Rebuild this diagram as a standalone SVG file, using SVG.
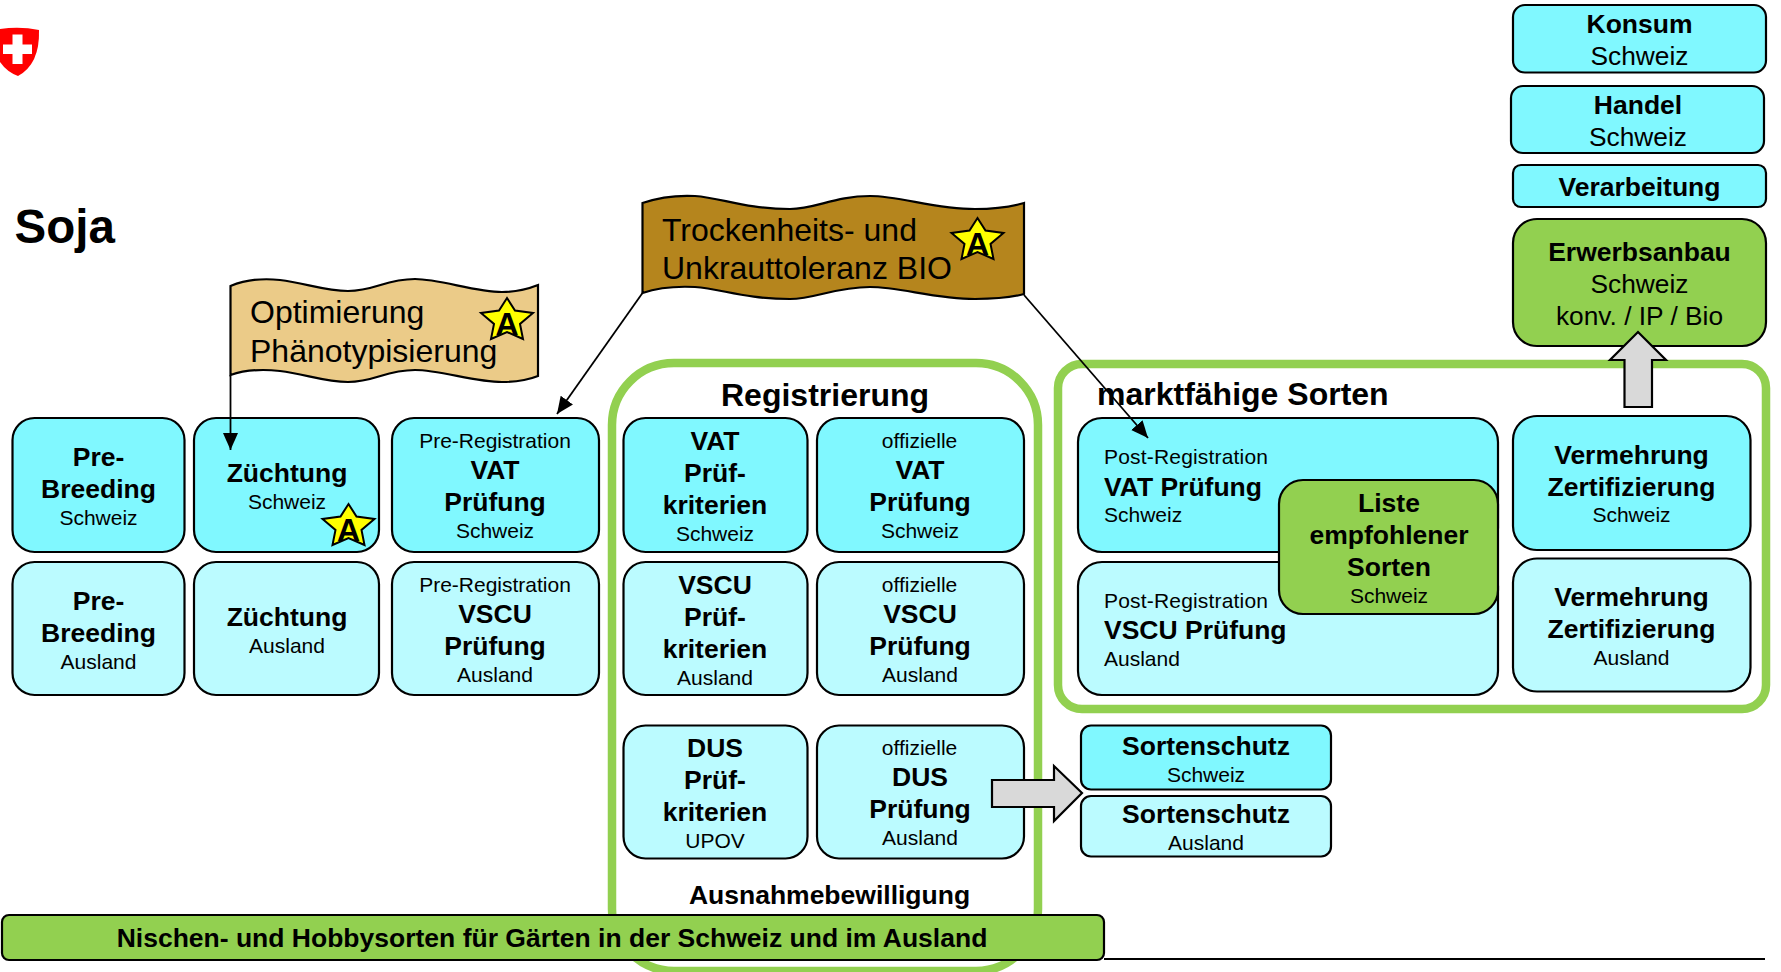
<svg xmlns="http://www.w3.org/2000/svg" width="1781" height="972" viewBox="0 0 1781 972">
<style>
text{font-family:"Liberation Sans",Arial,sans-serif;fill:#000}
.b{font-weight:bold;font-size:26.5px;text-anchor:middle}
.r{font-size:21px;text-anchor:middle}
.bl{font-weight:bold;font-size:26.5px}
.rl{font-size:21px}
.m{font-size:26.300px;text-anchor:middle}
.f{font-size:32px}
.h{font-weight:bold;font-size:32px}
.box{stroke:#000;stroke-width:2.2}
.c1{fill:#80F8FF}
.c2{fill:#BBFBFF}
.g{fill:#92D050}
.frame{fill:#fff;stroke:#92D050;stroke-width:8.500}
.star{fill:#FFFF00;stroke:#000;stroke-width:2}
.sa{font-weight:bold;font-size:32px;text-anchor:middle}
.conn{fill:none;stroke:#000;stroke-width:1.8}
.block{fill:#D9D9D9;stroke:#000;stroke-width:2.2}
</style>
<defs>
<marker id="ah" markerUnits="userSpaceOnUse" markerWidth="18" markerHeight="18" refX="17" refY="7.5" orient="auto"><path d="M0 0L17 7.5L0 15Z" fill="#000"/></marker>
<path id="st" d="M0-22L8-9.500L26-7L13 4L16 19L0 12L-16 19L-13 4L-26-7L-8-9.500Z"/>
</defs>
<g id="logo"><path d="M0 29Q20 26 39 30Q40 64 18 76Q7 72 0 62Z" fill="#FF0000"/><path d="M12.500 34.500H22.500V44.500H32V54H22.500V64H12.500V54H3V44.500H12.500Z" fill="#fff"/></g>
<text x="14.500" y="243" style="font-weight:bold;font-size:47.500px">Soja</text>
<g id="frame-registrierung"><rect class="frame" x="612" y="363" width="426" height="608" rx="62"/></g>
<g id="frame-marktfaehig"><rect class="frame" x="1058" y="364" width="708" height="345" rx="24"/></g>
<g id="pre-breeding-ch"><rect class="box c1" x="12.500" y="418" width="172" height="134" rx="22"/><text class="b" x="98.500" y="466">Pre-</text><text class="b" x="98.500" y="498">Breeding</text><text class="r" x="98.500" y="525">Schweiz</text></g>
<g id="zuechtung-ch"><rect class="box c1" x="194" y="418" width="185" height="134" rx="22"/><text class="b" x="287" y="482">Züchtung</text><text class="r" x="287" y="509">Schweiz</text></g>
<g id="prereg-vat"><rect class="box c1" x="392" y="418" width="207" height="134" rx="22"/><text class="r" x="495" y="448">Pre-Registration</text><text class="b" x="495" y="479">VAT</text><text class="b" x="495" y="511">Prüfung</text><text class="r" x="495" y="538">Schweiz</text></g>
<g id="pre-breeding-a"><rect class="box c2" x="12.500" y="562" width="172" height="133" rx="22"/><text class="b" x="98.500" y="610">Pre-</text><text class="b" x="98.500" y="642">Breeding</text><text class="r" x="98.500" y="669">Ausland</text></g>
<g id="zuechtung-a"><rect class="box c2" x="194" y="562" width="185" height="133" rx="22"/><text class="b" x="287" y="626">Züchtung</text><text class="r" x="287" y="653">Ausland</text></g>
<g id="prereg-vscu"><rect class="box c2" x="392" y="562" width="207" height="133" rx="22"/><text class="r" x="495" y="592">Pre-Registration</text><text class="b" x="495" y="623">VSCU</text><text class="b" x="495" y="655">Prüfung</text><text class="r" x="495" y="682">Ausland</text></g>
<text class="h" x="825" y="406" text-anchor="middle">Registrierung</text>
<g id="vat-krit"><rect class="box c1" x="623.500" y="418" width="184" height="134" rx="22"/><text class="b" x="715" y="450">VAT</text><text class="b" x="715" y="482">Prüf-</text><text class="b" x="715" y="514">kriterien</text><text class="r" x="715" y="541">Schweiz</text></g>
<g id="off-vat"><rect class="box c1" x="817" y="418" width="207" height="134" rx="22"/><text class="r" x="919.500" y="448">offizielle</text><text class="b" x="920" y="479">VAT</text><text class="b" x="920" y="511">Prüfung</text><text class="r" x="920" y="538">Schweiz</text></g>
<g id="vscu-krit"><rect class="box c2" x="623.500" y="562" width="184" height="133" rx="22"/><text class="b" x="715" y="594">VSCU</text><text class="b" x="715" y="626">Prüf-</text><text class="b" x="715" y="658">kriterien</text><text class="r" x="715" y="685">Ausland</text></g>
<g id="off-vscu"><rect class="box c2" x="817" y="562" width="207" height="133" rx="22"/><text class="r" x="919.500" y="592">offizielle</text><text class="b" x="920" y="623">VSCU</text><text class="b" x="920" y="655">Prüfung</text><text class="r" x="920" y="682">Ausland</text></g>
<g id="dus-krit"><rect class="box c2" x="623.500" y="725.500" width="184" height="133" rx="22"/><text class="b" x="715" y="757">DUS</text><text class="b" x="715" y="789">Prüf-</text><text class="b" x="715" y="821">kriterien</text><text class="r" x="715" y="848">UPOV</text></g>
<g id="off-dus"><rect class="box c2" x="817" y="725.500" width="207" height="133" rx="22"/><text class="r" x="919.500" y="755">offizielle</text><text class="b" x="920" y="786">DUS</text><text class="b" x="920" y="818">Prüfung</text><text class="r" x="920" y="845">Ausland</text></g>
<text class="bl" x="829.500" y="904" text-anchor="middle">Ausnahmebewilligung</text>
<text class="h" x="1097" y="405">marktfähige Sorten</text>
<g id="postreg-vat"><rect class="box c1" x="1078" y="418" width="420" height="134" rx="24"/><text class="rl" x="1104" y="464" textLength="164">Post-Registration</text><text class="bl" x="1104" y="496">VAT Prüfung</text><text class="rl" x="1104" y="522">Schweiz</text></g>
<g id="postreg-vscu"><rect class="box c2" x="1078" y="562" width="420" height="133" rx="24"/><text class="rl" x="1104" y="608" textLength="164">Post-Registration</text><text class="bl" x="1104" y="639">VSCU Prüfung</text><text class="rl" x="1104" y="666">Ausland</text></g>
<g id="liste"><rect class="box g" x="1279" y="480" width="219" height="134" rx="24"/><text class="b" x="1389" y="512">Liste</text><text class="b" x="1389" y="544">empfohlener</text><text class="b" x="1389" y="576">Sorten</text><text class="r" x="1389" y="603">Schweiz</text></g>
<g id="verm-ch"><rect class="box c1" x="1513" y="416" width="237.500" height="134" rx="24"/><text class="b" x="1631.500" y="464">Vermehrung</text><text class="b" x="1631.500" y="496">Zertifizierung</text><text class="r" x="1631.500" y="522">Schweiz</text></g>
<g id="verm-a"><rect class="box c2" x="1513" y="558.500" width="237.500" height="133" rx="24"/><text class="b" x="1631.500" y="606">Vermehrung</text><text class="b" x="1631.500" y="638">Zertifizierung</text><text class="r" x="1631.500" y="665">Ausland</text></g>
<g id="sorten-ch"><rect class="box c1" x="1081" y="725.500" width="250" height="64" rx="10"/><text class="b" x="1206" y="755">Sortenschutz</text><text class="r" x="1206" y="782">Schweiz</text></g>
<g id="sorten-a"><rect class="box c2" x="1081" y="796" width="250" height="60.500" rx="10"/><text class="b" x="1206" y="823">Sortenschutz</text><text class="r" x="1206" y="850">Ausland</text></g>
<g id="konsum"><rect class="box c1" x="1513" y="5" width="253" height="67.500" rx="12"/><text class="b" x="1639.500" y="33">Konsum</text><text class="m" x="1639.500" y="65">Schweiz</text></g>
<g id="handel"><rect class="box c1" x="1511" y="86" width="253" height="67" rx="12"/><text class="b" x="1638" y="114">Handel</text><text class="m" x="1638" y="146">Schweiz</text></g>
<g id="verarbeitung"><rect class="box c1" x="1513" y="165" width="253" height="42" rx="8"/><text class="b" x="1639.500" y="196">Verarbeitung</text></g>
<g id="erwerbsanbau"><rect class="box g" x="1513" y="219" width="253" height="127" rx="24"/><text class="b" x="1639.500" y="261">Erwerbsanbau</text><text class="m" x="1639.500" y="293">Schweiz</text><text class="m" x="1639.500" y="325">konv. / IP / Bio</text></g>
<g id="flag-optimierung"><path class="box" fill="#EBCB88" d="M230.500 286C245 280 262 278 280 280C305 283 325 291 348 291C375 291 385 279 415 279C440 279 475 292 502 292C515 292 528 289 538 285V376C528 380 515 382 502 382C475 382 440 370 415 370C385 370 375 382 348 382C325 382 305 374 280 371C262 369 245 370 230.500 375Z"/><text class="f" x="250" y="323">Optimierung</text><text class="f" x="250" y="362">Phänotypisierung</text><use href="#st" class="star" transform="translate(507 320)"/><text class="sa" x="507" y="335">A</text></g>
<g id="flag-trockenheit"><path class="box" fill="#B5851D" d="M642.500 203C657 198 675 195 695 196C722 198 745 209 790 209C815 209 835 196 870 196C900 196 935 209 975 209C992 209 1010 207 1024 203V294C1010 298 992 299 975 299C935 299 900 287 870 287C835 287 815 299 790 299C745 299 722 289 695 287C675 286 657 288 642.500 293Z"/><text class="f" x="662" y="241">Trockenheits- und</text><text class="f" x="662" y="279">Unkrauttoleranz BIO</text><use href="#st" class="star" transform="translate(977.500 240)"/><text class="sa" x="977.500" y="255">A</text></g>
<g id="star-zuechtung"><use href="#st" class="star" transform="translate(348.500 526)"/><text class="sa" x="348.500" y="541">A</text></g>
<g id="connectors">
<path class="conn" marker-end="url(#ah)" d="M230.500 375V450"/>
<path class="conn" marker-end="url(#ah)" d="M642.500 293L557 414"/>
<path class="conn" marker-end="url(#ah)" d="M1024 295L1148 438"/>
<path class="block" d="M1624.500 407V360H1610L1638 332L1666 360H1652V407Z"/>
<path class="block" d="M992 780H1054V766L1082 793L1054 821V807H992Z"/>
</g>
<path d="M1104 959H1765" stroke="#000" stroke-width="2" fill="none"/>
<g id="nischen"><rect class="box g" x="2" y="915" width="1102" height="45" rx="7"/><text class="b" x="552" y="947">Nischen- und Hobbysorten für Gärten in der Schweiz und im Ausland</text></g>
</svg>
